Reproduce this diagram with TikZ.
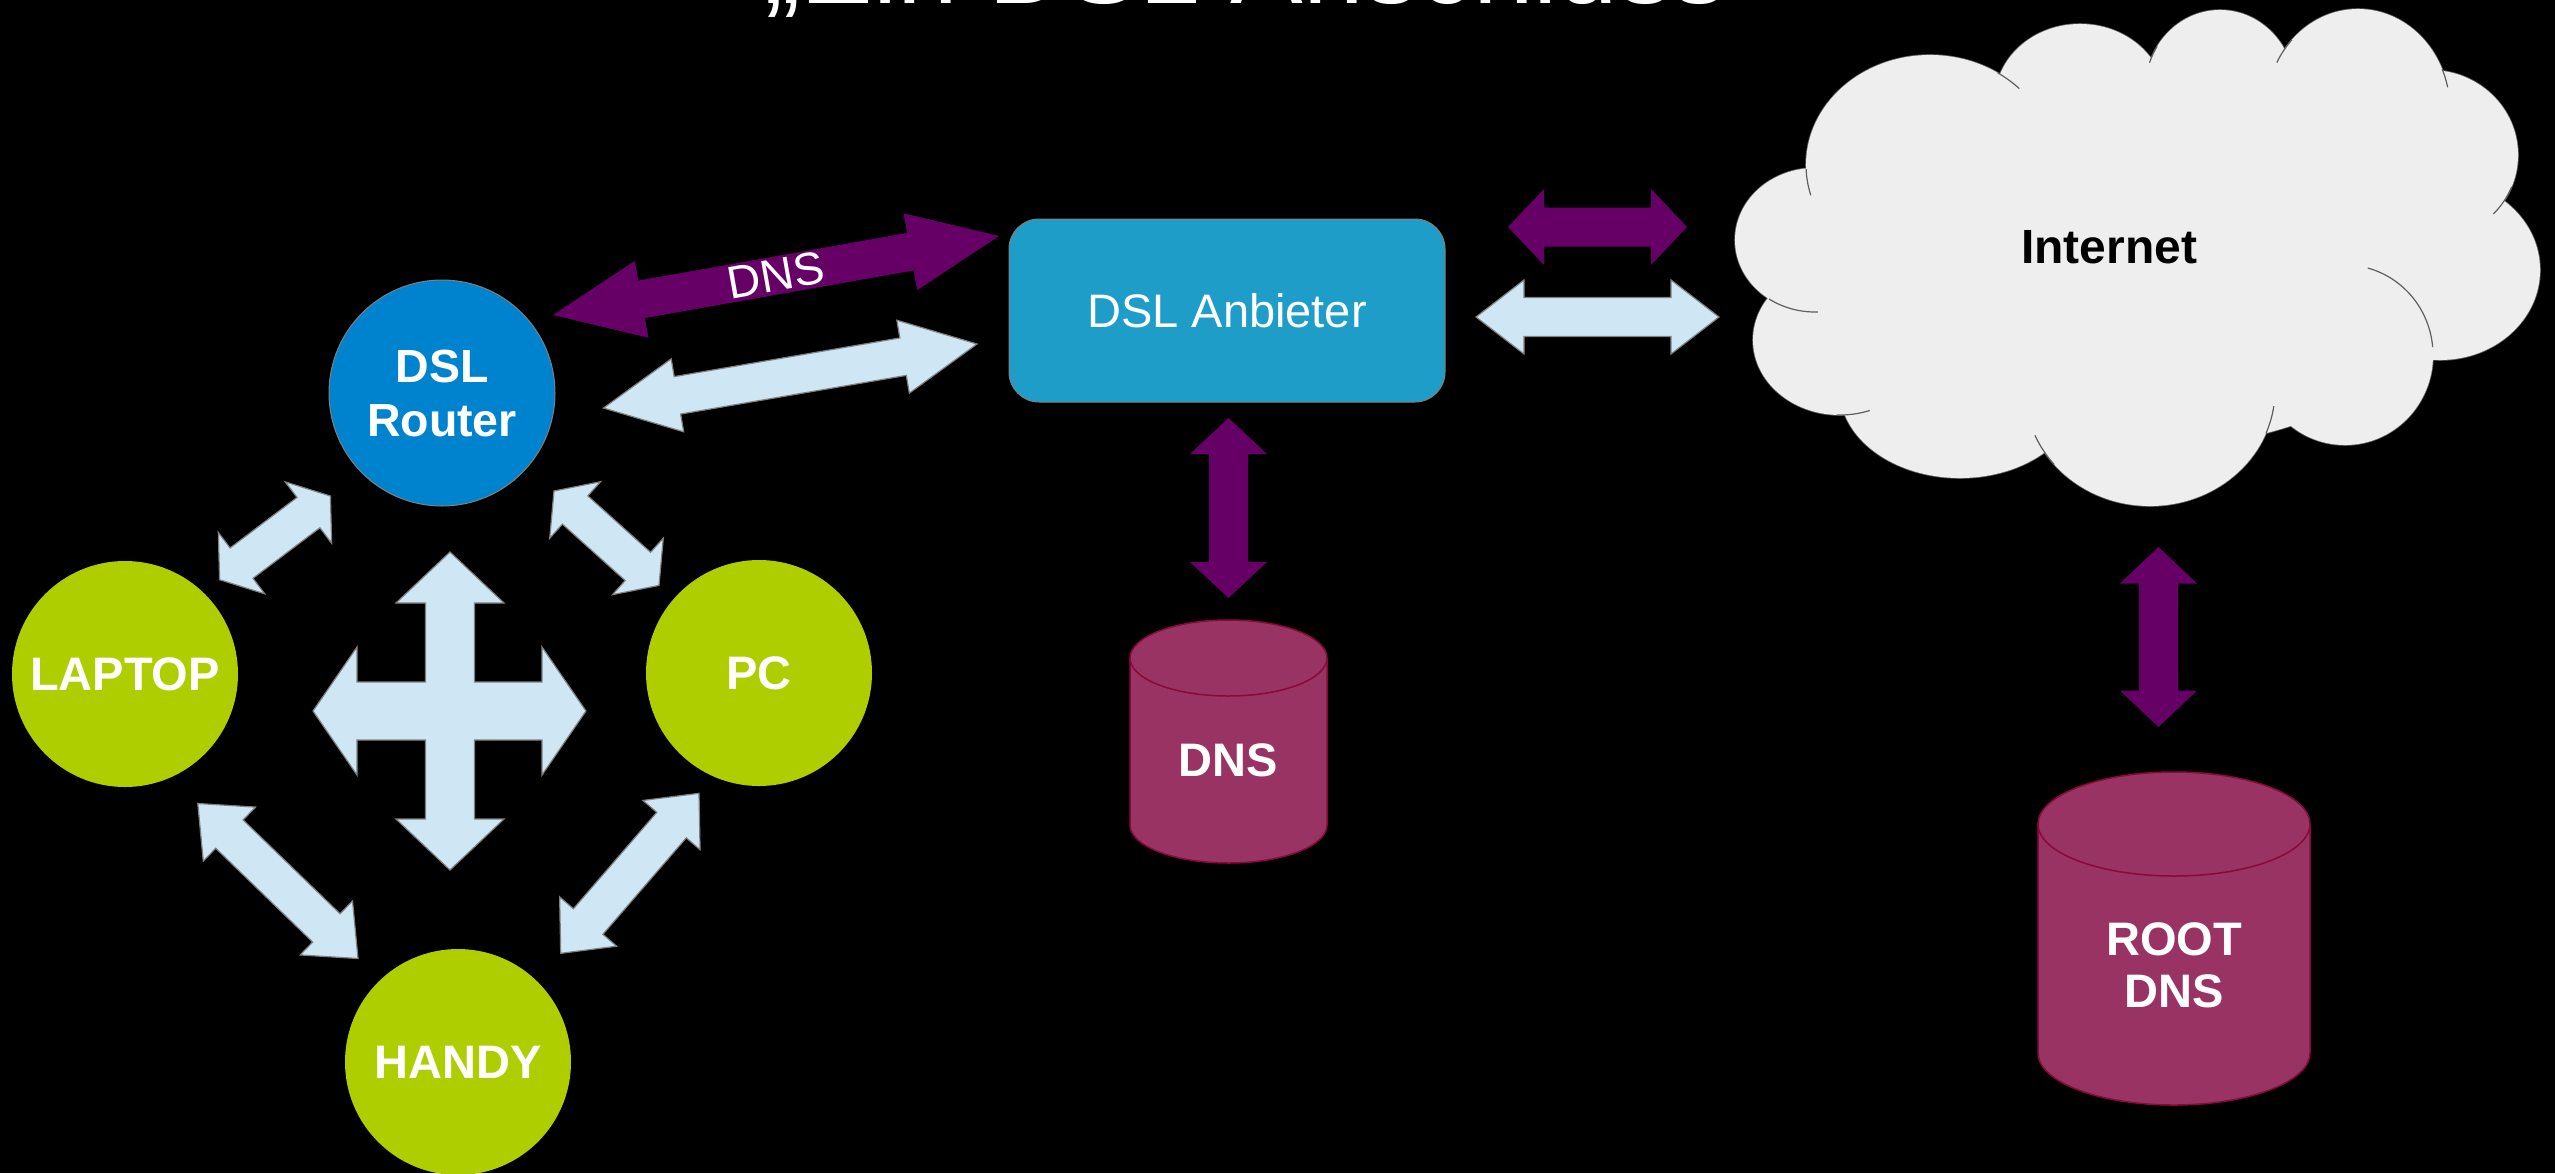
\documentclass[tikz,border=0pt]{standalone}
\usepackage{fontspec}
\setmainfont{Liberation Sans}
\usetikzlibrary{calc}
\definecolor{lblue}{RGB}{207,230,244}
\definecolor{arrgray}{RGB}{128,128,128}
\definecolor{dpurple}{RGB}{102,0,102}
\definecolor{rblue}{RGB}{0,131,207}
\definecolor{limeg}{RGB}{175,206,0}
\definecolor{abblue}{RGB}{30,157,200}
\definecolor{cylfill}{RGB}{153,51,99}
\definecolor{cylline}{RGB}{135,10,55}
\definecolor{cloudfill}{RGB}{238,238,238}
\definecolor{cloudline}{RGB}{95,95,95}

% block double arrow: #1 style, #2 tip A, #3 tip B, #4 shaft half width, #5 head half width, #6 head length
\newcommand\blockarrow[6]{%
  \coordinate (ba-ha) at ($(#2)!#6!(#3)$);
  \coordinate (ba-hb) at ($(#3)!#6!(#2)$);
  \path[#1] (#2) -- ($(ba-ha)!#5!90:(#3)$) -- ($(ba-ha)!#4!90:(#3)$)
     -- ($(ba-hb)!#4!-90:(#2)$) -- ($(ba-hb)!#5!-90:(#2)$) -- (#3)
     -- ($(ba-hb)!#5!90:(#2)$) -- ($(ba-hb)!#4!90:(#2)$)
     -- ($(ba-ha)!#4!-90:(#3)$) -- ($(ba-ha)!#5!-90:(#3)$) -- cycle;
}

\tikzset{
  lightarr/.style={fill=lblue, draw=arrgray, line width=1.2pt, line join=miter},
  purplearr/.style={fill=dpurple},
  client/.style={circle, minimum size=226pt, inner sep=0pt, fill=limeg, text=white,
    font=\bfseries\fontsize{47}{54}\selectfont},
  routerstyle/.style={circle, minimum size=226pt, inner sep=0pt, fill=rblue, draw=arrgray,
    line width=1pt, text=white, align=center, font=\bfseries\fontsize{46.5}{54}\selectfont},
  providerstyle/.style={rectangle, rounded corners=30pt, minimum width=436pt, minimum height=183pt,
    inner sep=0pt, fill=abblue, draw=arrgray, line width=1pt, text=white,
    font=\fontsize{47}{54}\selectfont},
  cylbody/.style={fill=cylfill, draw=cylline, line width=1.5pt},
  cylrim/.style={draw=cylline, line width=1.5pt},
  cyltext/.style={text=white, align=center, inner sep=0pt, font=\bfseries\fontsize{47}{52}\selectfont},
  cloudpuff/.style={fill=cloudfill, draw=cloudline, line width=1.6pt},
  cloudinner/.style={draw=cloudline, line width=1.2pt},
  arrowlabel/.style={text=white, font=\fontsize{46}{50}\selectfont},
  titlestyle/.style={text=white, inner sep=0pt, font=\fontsize{109}{120}\selectfont}
}

\begin{document}
\begin{tikzpicture}[x=1pt,y=-1pt]
\fill[black] (0,0) rectangle (2555,1173);
\useasboundingbox (0,0) rectangle (2555,1173);

% title (cut off at the top)
\node[titlestyle, anchor=base] (title) at (1246,3) {„Ein DSL Anschluss};

% ---------- cloud ----------
\def\puffs{1815/240/80/72, 1840/340/87/75, 1960/390/120/88, 2150/390/125/116,
  2345/355/88/90, 2440/270/100/90, 2430/155/88/85, 2358/110/92/101,
  2220/90/75/80, 2080/100/85/76, 1930/165/124/110, 2130/260/330/190}
\foreach \cx/\cy/\rx/\ry in \puffs
  \path[cloudpuff] (\cx,\cy) ellipse [x radius=\rx, y radius=\ry];
\foreach \cx/\cy/\rx/\ry in \puffs
  \fill[cloudfill] (\cx,\cy) ellipse [x radius=\rx, y radius=\ry];
% inner arcs of the cloud
\draw[cloudinner] ($(1930,165)+(178:124 and 110)$) arc[start angle=178, end angle=164, x radius=124, y radius=110];
\draw[cloudinner] ($(1930,165)+(-57:124 and 110)$) arc[start angle=-57, end angle=-44, x radius=124, y radius=110];
\draw[cloudinner] ($(2220,90)+(-160:75 and 80)$) arc[start angle=-160, end angle=-147, x radius=75, y radius=80];
\draw[cloudinner] ($(2358,110)+(-152:92 and 101)$) arc[start angle=-152, end angle=-136, x radius=92, y radius=101];
\draw[cloudinner] ($(2358,110)+(-24:92 and 101)$) arc[start angle=-24, end angle=-13, x radius=92, y radius=101];
\draw[cloudinner] ($(2430,155)+(22:88 and 85)$) arc[start angle=22, end angle=44, x radius=88, y radius=85];
\draw[cloudinner] ($(2345,355)+(-75:88 and 90)$) arc[start angle=-75, end angle=-5, x radius=88, y radius=90];
\draw[cloudinner] ($(2150,390)+(8:125 and 116)$) arc[start angle=8, end angle=22, x radius=125, y radius=116];
\draw[cloudinner] ($(2150,390)+(157:125 and 116)$) arc[start angle=157, end angle=140, x radius=125, y radius=116];
\draw[cloudinner] ($(1840,340)+(92:87 and 75)$) arc[start angle=92, end angle=70, x radius=87, y radius=75];
\draw[cloudinner] ($(1815,240)+(125:80 and 72)$) arc[start angle=125, end angle=88, x radius=80, y radius=72];
\node[text=black, font=\bfseries\fontsize{48}{54}\selectfont] (internet) at (2109,247) {Internet};

% ---------- DNS cylinders ----------
\path[cylbody] (1130,658) -- (1130,825) arc[start angle=180, end angle=0, x radius=98.5, y radius=38]
  -- (1327,658) arc[start angle=0, end angle=-180, x radius=98.5, y radius=38] -- cycle;
\draw[cylrim] (1130,658) arc[start angle=180, end angle=0, x radius=98.5, y radius=38];
\node[cyltext] (dns) at (1228.5,760) {DNS};

\path[cylbody] (2038,824) -- (2038,1053) arc[start angle=180, end angle=0, x radius=136, y radius=52]
  -- (2310,824) arc[start angle=0, end angle=-180, x radius=136, y radius=52] -- cycle;
\draw[cylrim] (2038,824) arc[start angle=180, end angle=0, x radius=136, y radius=52];
\node[cyltext] (rootdns) at (2174,965) {ROOT\\DNS};

% ---------- nodes ----------
\node[routerstyle] (router) at (442,393) {DSL\\Router};
\node[client] (laptop) at (125,674) {LAPTOP};
\node[client] (pc) at (759,673) {PC};
\node[client] (handy) at (458,1062) {HANDY};
\node[providerstyle] (anbieter) at (1227,310.5) {DSL Anbieter};

% ---------- arrow end points ----------
\coordinate (r1a) at (553,315);   \coordinate (r1b) at (999,236);
\coordinate (r2a) at (603.5,408); \coordinate (r2b) at (977,344);
\coordinate (i1a) at (1508,227);  \coordinate (i1b) at (1687,227);
\coordinate (i2a) at (1476,317);  \coordinate (i2b) at (1719,317);
\coordinate (d1a) at (1228.5,418); \coordinate (d1b) at (1228.5,598);
\coordinate (d2a) at (2158.5,547); \coordinate (d2b) at (2158.5,727);
\coordinate (la) at (219.6,579.7); \coordinate (lb) at (330.4,496);
\coordinate (pa) at (554,491);     \coordinate (pb) at (659,585.4);
\coordinate (ha) at (197.8,803.5); \coordinate (hb) at (358,958.5);
\coordinate (qa) at (560.7,953.3); \coordinate (qb) at (699,793.3);

% ---------- block arrows ----------
\blockarrow{purplearr}{r1a}{r1b}{19pt}{39pt}{90pt}
\path (r1a) -- (r1b) node[midway, sloped, arrowlabel] (dnslabel) {DNS};
\blockarrow{lightarr}{r2a}{r2b}{19pt}{37pt}{75pt}
\blockarrow{purplearr}{i1a}{i1b}{19.5pt}{38pt}{36pt}
\blockarrow{lightarr}{i2a}{i2b}{19.5pt}{37pt}{48pt}
\blockarrow{purplearr}{d1a}{d1b}{19.5pt}{38.5pt}{36pt}
\blockarrow{purplearr}{d2a}{d2b}{19.5pt}{38.5pt}{36.5pt}
\blockarrow{lightarr}{la}{lb}{19pt}{38.5pt}{27.5pt}
\blockarrow{lightarr}{pa}{pb}{19pt}{38pt}{28.4pt}
\blockarrow{lightarr}{ha}{hb}{19.7pt}{37.6pt}{44pt}
\blockarrow{lightarr}{qa}{qb}{19.5pt}{37.7pt}{42pt}

% ---------- four-way cross ----------
\path[lightarr] (450,552) -- (504,603) -- (474.5,603) -- (474.5,682) -- (542,682) -- (542,647)
  -- (586,711) -- (542,775) -- (542,740) -- (474.5,740) -- (474.5,819) -- (504,819)
  -- (450,870) -- (396,819) -- (425.5,819) -- (425.5,740) -- (357,740) -- (357,775)
  -- (313,711) -- (357,647) -- (357,682) -- (425.5,682) -- (425.5,603) -- (396,603) -- cycle;
\end{tikzpicture}
\end{document}
